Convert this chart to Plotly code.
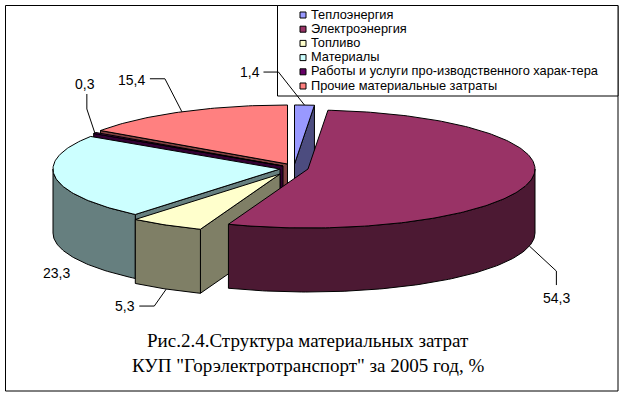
import math
import plotly.graph_objects as go

# --- data ---
categories = ["Теплоэнергия", "Электроэнергия", "Топливо", "Материалы",
              "Работы и услуги про-изводственного харак-тера",
              "Прочие материальные затраты"]
values = [1.4, 54.3, 5.3, 23.3, 0.3, 15.4]
title_lines = ["Рис.2.4.Структура материальных затрат",
               "КУП \"Горэлектротранспорт\" за 2005 год, %"]

# --- styling / layout constants (pixels of the 624x396 canvas) ---
top_colors = ["#9999FF", "#993366", "#FFFFCC", "#CCFFFF", "#660066", "#FF8080"]
side_colors = ["#4C4C7F", "#4C1933", "#7F7F66", "#667F7F", "#330033", "#7F4040"]
apexes = [(294.5, 164), (308, 169), (280, 174), (280, 169), (283, 166), (287.5, 164)]
RX, RY, DEPTH = 227, 59, 64
draw_order = [0, 5, 4, 3, 2, 1]
# leader: elbow offset(s) from the anchor and label placement
leaders = [
    [(-26, -33), (-41, -33)],
    [(27, 25), (27, 39)],
    [(-12, 17), (-27, 17)],
    None,
    [(-8, -24), (-8, -39)],
    [(-17, -33), (-32, -33)],
]
label_pos = [(262, 72, "right"), (556.5, 298, "center"), (137, 306, "right"),
             (72, 273, "right"), (84.5, 84, "center"), (147, 80, "right")]
LEGEND_SW_X, LEGEND_TX_X = 303, 309
LEGEND_Y0, LEGEND_DY = 15, 14.2
LEGEND_TEXT_SHIFT = -1
FONT = "Liberation Sans, Arial, sans-serif"
SERIF = "Liberation Serif, Times New Roman, serif"

fig = go.Figure()


def pt(apex, deg, drop=0):
    t = math.radians(deg)
    return apex[0] + RX * math.sin(t), apex[1] - RY * math.cos(t) + drop


def poly(points, fill, name):
    fig.add_trace(go.Scatter(
        x=[p[0] for p in points] + [points[0][0]],
        y=[p[1] for p in points] + [points[0][1]],
        mode="lines", fill="toself", fillcolor=fill,
        line=dict(color="#000000", width=1), name=name,
        showlegend=False, hoverinfo="skip"))


def arc(apex, a0, a1, drop=0):
    n = max(2, int(abs(a1 - a0)) + 2)
    return [pt(apex, a0 + (a1 - a0) * i / (n - 1), drop) for i in range(n)]


total = sum(values)
starts, ang = [], 0.0
for v in values:
    starts.append((ang, ang + v / total * 360))
    ang += v / total * 360

# leader lines first, so the legend box and slices sit above their ends
for i, lead in enumerate(leaders):
    if not lead:
        continue
    a0, a1 = starts[i]
    mid = (a0 + a1) / 2
    drop = DEPTH if 90 < mid < 270 else 0
    ax, ay = pt(apexes[i], mid, drop)
    xs = [ax] + [ax + dx for dx, dy in lead]
    ys = [ay] + [ay + dy for dx, dy in lead]
    fig.add_trace(go.Scatter(x=xs, y=ys, mode="lines",
                             line=dict(color="#000000", width=1),
                             showlegend=False, hoverinfo="skip"))

# slices, back to front; only the radial walls that face the viewer
for i in draw_order:
    a0, a1 = starts[i]
    ap = apexes[i]
    low = (ap[0], ap[1] + DEPTH)
    if math.sin(math.radians(a0)) < 0:
        poly([ap, pt(ap, a0), pt(ap, a0, DEPTH), low], side_colors[i], categories[i])
    if math.sin(math.radians(a1)) > 0:
        poly([ap, pt(ap, a1), pt(ap, a1, DEPTH), low], side_colors[i], categories[i])
    r0, r1 = max(a0, 90), min(a1, 270)
    if r1 > r0:
        poly(arc(ap, r0, r1) + arc(ap, r1, r0, DEPTH), side_colors[i], categories[i])
    poly([ap] + arc(ap, a0, a1), top_colors[i], categories[i])

# legend key built from the category list
ys_legend = [LEGEND_Y0 + LEGEND_DY * k for k in range(len(categories))]
fig.add_trace(go.Scatter(
    x=[LEGEND_SW_X] * len(categories), y=ys_legend, mode="markers",
    marker=dict(symbol="square", size=6, color=top_colors,
                line=dict(color="#000000", width=1)),
    showlegend=False, hoverinfo="skip"))

annotations = []
for k, name in enumerate(categories):
    annotations.append(dict(x=LEGEND_TX_X, y=ys_legend[k] + LEGEND_TEXT_SHIFT, text=name,
                            showarrow=False, xanchor="left", yanchor="middle",
                            xref="x", yref="y",
                            font=dict(family=FONT, size=12.8, color="#000000")))
for v, (x, y, anchor) in zip(values, label_pos):
    annotations.append(dict(x=x, y=y, text=f"{v:.1f}".replace(".", ","), showarrow=False,
                            xanchor=anchor, yanchor="middle", xref="x", yref="y",
                            font=dict(family=FONT, size=14, color="#000000")))
for line, y in zip(title_lines, (340, 365)):
    annotations.append(dict(x=308, y=y, text=line, showarrow=False,
                            xanchor="center", yanchor="middle", xref="x", yref="y",
                            font=dict(family=SERIF, size=19, color="#000000")))

fig.update_layout(
    width=624, height=396, autosize=False,
    margin=dict(l=0, r=0, t=0, b=0),
    paper_bgcolor="#FFFFFF", plot_bgcolor="#FFFFFF",
    xaxis=dict(range=[0, 624], visible=False, fixedrange=True),
    yaxis=dict(range=[396, 0], visible=False, fixedrange=True),
    showlegend=False,
    annotations=annotations,
    shapes=[
        dict(type="rect", xref="x", yref="y", x0=5.5, y0=5.5, x1=618, y1=391,
             line=dict(color="#000000", width=1), layer="below"),
        dict(type="rect", xref="x", yref="y", x0=277.5, y0=5.5, x1=618, y1=96,
             line=dict(color="#000000", width=1), fillcolor="#FFFFFF", layer="between"),
    ],
)
fig.write_html("out.html", config=dict(displayModeBar=False),
               post_script="document.body.style.margin='0';")
